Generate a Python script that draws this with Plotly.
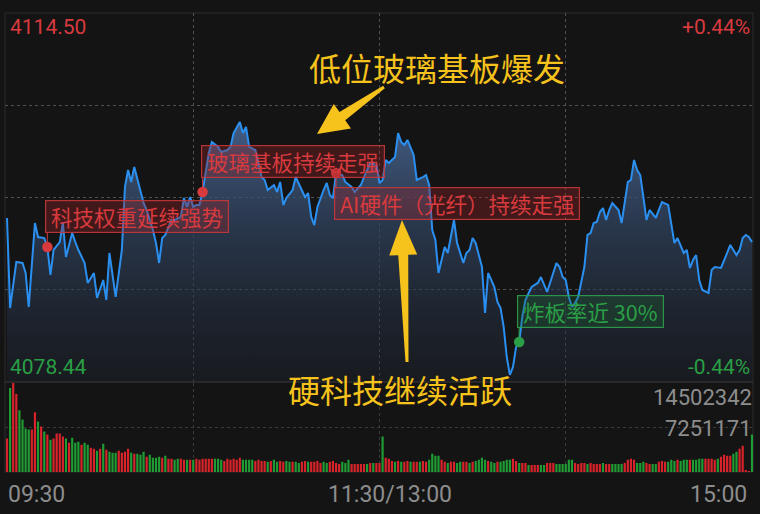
import math
import plotly.graph_objects as go

W, H = 760, 514

# ---------------- data ----------------
price_minutes = [0, 1, 3, 5, 6, 7, 9, 10, 12, 13, 14, 15, 17, 18, 19, 21, 22, 23, 25, 26,
                 28, 29, 31, 32, 33, 34, 35, 37, 38, 39, 40, 41, 43, 44, 45, 47, 48, 49, 50, 51,
                 53, 54, 56, 57, 58, 59, 60, 61, 62, 63, 65, 66, 68, 69, 71, 72, 73, 74, 75, 76,
                 77, 78, 80, 81, 82, 83, 84, 86, 87, 88, 89, 90, 92, 93, 95, 96, 97, 98, 99, 100,
                 102, 103, 104, 105, 106, 108, 109, 111, 112, 114, 115, 117, 119, 120, 121, 122, 123, 125, 126, 127,
                 128, 129, 131, 132, 134, 135, 136, 137, 138, 139, 141, 142, 144, 145, 147, 148, 149, 150, 151, 153,
                 154, 155, 157, 158, 159, 160, 161, 162, 163, 164, 165, 166, 167, 169, 171, 172, 174, 175, 177, 178,
                 179, 180, 181, 182, 183, 184, 186, 187, 188, 189, 190, 191, 192, 193, 194, 195, 197, 198, 199, 200,
                 201, 202, 203, 204, 205, 206, 207, 209, 210, 211, 213, 214, 215, 216, 218, 219, 220, 221, 222, 223,
                 224, 226, 227, 228, 230, 232, 233, 235, 236, 237, 238, 239, 240]
price_values = [4094.47, 4085.67, 4090.17, 4090.07, 4089.09, 4085.77, 4093.98, 4092.61, 4092.51, 4091.63,
                4088.90, 4091.34, 4092.12, 4093.98, 4090.66, 4093.00, 4092.12, 4091.34, 4090.07, 4088.12,
                4089.09, 4086.65, 4088.41, 4086.45, 4091.05, 4088.70, 4086.75, 4091.34, 4097.50, 4099.16,
                4097.99, 4099.45, 4097.20, 4095.93, 4095.25, 4093.29, 4092.02, 4090.07, 4092.51, 4092.81,
                4094.27, 4094.27, 4094.57, 4096.42, 4095.54, 4096.52, 4095.54, 4095.74, 4095.74, 4097.01,
                4100.82, 4101.89, 4101.41, 4100.92, 4101.11, 4101.41, 4102.77, 4103.26, 4103.85, 4102.77,
                4103.36, 4101.41, 4101.11, 4099.84, 4098.47, 4098.18, 4097.20, 4097.69, 4097.01, 4097.99,
                4095.74, 4096.42, 4097.20, 4098.47, 4097.20, 4096.52, 4096.91, 4094.57, 4093.78, 4095.54,
                4097.20, 4097.89, 4096.71, 4096.42, 4098.86, 4098.67, 4097.99, 4097.50, 4097.01, 4097.69,
                4098.47, 4099.84, 4099.65, 4097.89, 4098.18, 4100.14, 4099.84, 4100.43, 4102.77, 4101.89,
                4101.60, 4102.09, 4100.62, 4098.18, 4098.47, 4098.67, 4097.69, 4093.29, 4092.32, 4089.09,
                4091.63, 4091.05, 4094.27, 4092.02, 4090.07, 4091.05, 4091.34, 4092.51, 4092.02, 4089.68,
                4085.18, 4089.09, 4087.72, 4086.26, 4085.67, 4083.82, 4080.88, 4079.13, 4079.91, 4081.86,
                4082.35, 4084.79, 4086.45, 4087.72, 4088.12, 4088.70, 4087.24, 4088.12, 4090.07, 4089.68,
                4088.70, 4088.41, 4086.75, 4085.77, 4086.16, 4086.75, 4089.68, 4092.81, 4093.00, 4093.98,
                4094.08, 4095.05, 4095.44, 4094.27, 4095.25, 4095.93, 4095.25, 4093.98, 4095.93, 4097.99,
                4098.18, 4100.14, 4099.16, 4098.67, 4096.52, 4094.27, 4095.25, 4094.47, 4095.25, 4096.03,
                4095.74, 4093.98, 4092.02, 4092.51, 4091.05, 4091.34, 4089.58, 4090.36, 4090.85, 4088.41,
                4087.43, 4087.14, 4089.39, 4089.68, 4089.58, 4091.05, 4091.83, 4090.85, 4091.34, 4092.51,
                4092.81, 4092.61, 4092.12]

price_top = 4114.50
price_bottom = 4078.44
pct_top_label = "+0.44%"
pct_bottom_label = "-0.44%"

# volume per minute, millions (index = minute 0..240)
volume_m = [
    5.44, 13.68, 14.50, 12.69, 10.05, 8.57, 7.09, 6.92, 6.92, 9.72,
    8.24, 7.42, 6.59, 6.10, 5.27, 5.44, 6.26, 6.26, 5.77, 5.44,
    4.78, 5.60, 4.78, 4.94, 4.45, 4.78, 4.45, 3.96, 3.79, 3.46,
    3.79, 4.61, 3.63, 3.30, 3.13, 3.13, 3.46, 3.13, 3.30, 3.79,
    3.13, 2.97, 2.97, 2.80, 3.30, 2.47, 2.80, 2.31, 2.31, 2.47,
    2.31, 2.64, 2.14, 2.14, 1.98, 2.14, 2.14, 1.98, 1.98, 1.98,
    1.98, 2.14, 1.98, 2.14, 2.14, 2.14, 2.14, 2.14, 2.14, 1.98,
    1.81, 2.14, 1.98, 2.14, 1.98, 2.31, 1.98, 1.98, 1.98,
    1.98, 1.81, 1.98, 1.81, 1.81, 1.65, 1.81, 1.98, 1.65, 1.81,
    1.65, 1.81, 1.65, 1.65, 1.65, 1.48, 1.65, 1.81, 1.65, 1.65,
    1.65, 1.81, 1.48, 1.65, 1.48, 1.65, 1.81, 1.48, 1.32, 1.65,
    1.48, 1.98, 1.32, 1.32, 1.32, 1.32, 1.32, 1.32, 1.48, 1.48,
    1.48, 1.48,
    5.77,
    2.31, 2.14, 1.81, 1.65, 1.81, 1.65, 1.65, 1.81, 1.65, 1.65,
    1.65, 1.65, 1.81, 1.65, 1.98, 2.97, 2.64, 2.64, 1.98, 1.65,
    1.48, 1.65, 1.65, 1.48, 1.65, 1.65, 1.65, 1.48, 1.65, 1.81,
    1.98, 2.31, 1.98, 1.81, 1.65, 1.48, 1.65, 1.65,
    1.81, 1.98, 1.98, 2.14, 1.81, 1.48, 1.48, 1.48, 1.15, 1.15,
    1.15, 1.15, 1.15, 1.15, 1.48, 1.48, 1.48, 1.32, 1.32, 1.32,
    1.32, 1.98, 1.98, 1.48, 1.32, 1.48, 1.48, 1.32, 1.48, 1.32,
    1.32, 1.32, 1.48, 1.32, 1.32, 1.32, 1.32, 1.32, 1.32, 1.48,
    1.98, 2.14, 1.98, 1.48, 1.48, 1.65, 1.48, 1.32, 1.32, 1.32,
    1.65, 1.81, 1.65, 1.65, 1.98, 1.81, 1.98, 1.81, 1.98, 1.98,
    1.98, 1.98, 1.98, 2.14, 2.14, 2.14, 2.14, 2.14, 1.98, 2.14,
    2.47, 2.80, 2.64, 2.64, 2.97, 3.30, 3.79, 4.28, 0.33, 0.08,
    6.10,
]
volume_dir = list(
    "rgrrggggrr" "grgrgrrrrg" "rgggrggrrg" "rgrgggrrrr" "grgggrgggg" "rgrrggrrgr" "grrrrrrggg" "rrrrrrggg"
    "grrrrgrggr" "rggrggrrgr" "rrrggrrrrg" "ggrrrrrgrg" "rr"
    "g"
    "rrrgrgrrgr" "rgrrggggrr" "grrggrrgrg" "gggrggrg"
    "gggrrgrrgr" "rrggrrrggg" "gggrrrrgrr" "rrgrrggggr" "rrrgggrrgg" "rrrgggrggg" "rggggrrrrg" "rrrrggrrrr" "g"
)
volume_top = 14502342
volume_half = 7251171

time_tick_labels = ["09:30", "11:30/13:00", "15:00"]

event_texts = ["科技权重延续强势", "玻璃基板持续走强", "AI硬件（光纤）持续走强", "炸板率近 30%"]
event_minutes = [13, 63, 106, 165]
event_kinds = ["up", "up", "up", "down"]
event_sides = ["above", "above", "below", "above"]

callout_texts = ["低位玻璃基板爆发", "硬科技继续活跃"]

# ---------------- styling ----------------
BG = "#141414"
RED = "#d83a3e"
GREEN = "#2a9f45"
GREY = "#8d8d8d"
YELLOW = "#f6c21c"
LINE_BLUE = "#2b8ff0"
NUM_FONT = "Roboto, 'Noto Sans', sans-serif"
CJK_FONT = "'Noto Sans CJK SC', 'Noto Sans', sans-serif"
NB = "\u00a0"

px_per_min = (752 - 7) / 240.0
x_lo, x_hi = -0.6, 240.4
x_dom = [(7 + x_lo * px_per_min) / W, (7 + x_hi * px_per_min) / W]


def py(ypx):
    return 1 - ypx / H


def px(xpx):
    return xpx / W


fig = go.Figure()

# baseline for the area fill
fig.add_trace(go.Scatter(x=[price_minutes[0], price_minutes[-1]], y=[price_bottom, price_bottom],
                         mode="lines", line=dict(width=0, color="rgba(0,0,0,0)"),
                         hoverinfo="skip", showlegend=False, xaxis="x", yaxis="y"))
fig.add_trace(go.Scatter(
    x=price_minutes, y=price_values, mode="lines",
    line=dict(color=LINE_BLUE, width=2),
    fill="tonexty",
    fillgradient=dict(type="vertical",
                      colorscale=[[0, "rgba(30,36,48,0.4)"], [0.6, "rgba(50,70,100,0.7)"],
                                  [1, "rgba(75,105,150,0.85)"]],
                      start=price_bottom, stop=max(price_values)),
    showlegend=False, xaxis="x", yaxis="y"))

# event dots
lookup = dict(zip(price_minutes, price_values))
dot_colors = [RED if k == "up" else GREEN for k in event_kinds]
fig.add_trace(go.Scatter(x=event_minutes, y=[lookup[m] for m in event_minutes], mode="markers",
                         marker=dict(size=10.5, color=dot_colors), showlegend=False,
                         xaxis="x", yaxis="y"))

# volume
bar_colors = ["#d8232a" if d == "r" else "#1f9c33" for d in volume_dir]
fig.add_trace(go.Bar(x=list(range(len(volume_m))), y=[v * 1e6 for v in volume_m],
                     marker=dict(color=bar_colors, line=dict(width=0)),
                     showlegend=False, xaxis="x2", yaxis="y2"))

shapes = []
annotations = []

# stems + event boxes
for txt, m, kind, side in zip(event_texts, event_minutes, event_kinds, event_sides):
    col = RED if kind == "up" else GREEN
    box_bg = "rgba(150,35,38,0.35)" if kind == "up" else "rgba(30,100,45,0.3)"
    border = "rgba(200,55,58,0.9)" if kind == "up" else "rgba(45,160,75,0.9)"
    p = lookup[m]
    gap = 14
    sgn = 1 if side == "above" else -1
    shapes.append(dict(type="line", xref="x", yref="y", ysizemode="pixel", yanchor=p,
                       x0=m, x1=m, y0=0, y1=sgn * gap, line=dict(color=border, width=1.2)))
    annotations.append(dict(x=m, y=p, xref="x", yref="y", text=NB + txt + NB, showarrow=False,
                            xanchor="left", yanchor="bottom" if sgn > 0 else "top",
                            xshift=-2, yshift=sgn * gap,
                            font=dict(family=CJK_FONT, size=21.5, color=col),
                            bgcolor=box_bg, bordercolor=border, borderwidth=1.2, borderpad=0))

# frame lines
shapes.append(dict(type="rect", xref="paper", yref="paper", x0=px(5), x1=px(753), y0=py(472), y1=py(13),
                   line=dict(color="#2c2c2c", width=1), layer="below"))
shapes.append(dict(type="line", xref="paper", yref="paper", x0=px(5), x1=px(753), y0=py(382), y1=py(382),
                   line=dict(color="#3a3a3a", width=1.2)))


# yellow tapered arrows (pixel geometry of the call-outs)
def arrow_path(tail, tip, head_len, head_half, shaft_half_base, shaft_half_tail):
    dx, dy = tip[0] - tail[0], tip[1] - tail[1]
    L = math.hypot(dx, dy)
    ux, uy = dx / L, dy / L
    nx, ny = -uy, ux
    bx, by = tip[0] - head_len * ux, tip[1] - head_len * uy
    pts = [
        (tail[0] + shaft_half_tail * nx, tail[1] + shaft_half_tail * ny),
        (bx + shaft_half_base * nx, by + shaft_half_base * ny),
        (bx + head_half * nx, by + head_half * ny),
        tip,
        (bx - head_half * nx, by - head_half * ny),
        (bx - shaft_half_base * nx, by - shaft_half_base * ny),
        (tail[0] - shaft_half_tail * nx, tail[1] - shaft_half_tail * ny),
    ]
    return "M " + " L ".join(f"{px(x):.5f},{py(y):.5f}" for x, y in pts) + " Z"


for tail, tip, hl, hh in [((384, 87), (317, 134), 31, 15), ((407, 362), (402, 220), 35, 14)]:
    shapes.append(dict(type="path", xref="paper", yref="paper", path=arrow_path(tail, tip, hl, hh, 5, 1.5),
                       fillcolor=YELLOW, line=dict(width=0)))

annotations.append(dict(x=px(437), y=py(67), xref="paper", yref="paper", text=callout_texts[0],
                        showarrow=False, xanchor="center", yanchor="middle",
                        font=dict(family=CJK_FONT, size=32, color=YELLOW)))
annotations.append(dict(x=px(400), y=py(389), xref="paper", yref="paper", text=callout_texts[1],
                        showarrow=False, xanchor="center", yanchor="middle",
                        font=dict(family=CJK_FONT, size=32, color=YELLOW)))


# axis value labels
def lab(text, x, y, xanchor, color, size):
    annotations.append(dict(x=px(x), y=py(y), xref="paper", yref="paper", text=text, showarrow=False,
                            xanchor=xanchor, yanchor="middle",
                            font=dict(family=NUM_FONT, size=size, color=color)))


lab(f"{price_top:.2f}", 8, 27, "left", RED, 21)
lab(pct_top_label, 752, 27, "right", RED, 21)
lab(f"{price_bottom:.2f}", 8, 367, "left", GREEN, 21)
lab(pct_bottom_label, 752, 367, "right", GREEN, 21)
lab(str(volume_top), 754, 397, "right", GREY, 22)
lab(str(volume_half), 754, 428, "right", GREY, 22)
lab(time_tick_labels[0], 6, 494, "left", GREY, 23)
lab(time_tick_labels[1], 390, 494, "center", GREY, 23)
lab(time_tick_labels[2], 749, 494, "right", GREY, 23)

mid = (price_top + price_bottom) / 2
q = (price_top - price_bottom) / 4

fig.update_layout(
    width=W, height=H, margin=dict(l=0, r=0, t=0, b=0, pad=0),
    paper_bgcolor=BG, plot_bgcolor=BG,
    showlegend=False, bargap=0.3,
    xaxis=dict(domain=x_dom, range=[x_lo, x_hi], tickvals=[60, 120, 180], showticklabels=False,
               showgrid=True, gridcolor="#505050", griddash="dot", gridwidth=1, zeroline=False,
               showline=False, ticks=""),
    yaxis=dict(domain=[py(382), py(13)], range=[price_bottom, price_top],
               tickvals=[mid - q, mid, mid + q], showticklabels=False,
               showgrid=True, gridcolor="#505050", griddash="dot", gridwidth=1, zeroline=False,
               showline=False, ticks=""),
    xaxis2=dict(domain=x_dom, range=[x_lo, x_hi], anchor="y2", tickvals=[60, 120, 180],
                showticklabels=False, showgrid=True, gridcolor="#3a3a3a", griddash="dot",
                zeroline=False, showline=False, ticks=""),
    yaxis2=dict(domain=[py(472), py(383)], range=[0, volume_top], anchor="x2",
                tickvals=[volume_half], showticklabels=False, showgrid=True, gridcolor="#3a3a3a",
                griddash="dot", zeroline=False, showline=False, ticks=""),
    shapes=shapes, annotations=annotations,
)

fig.write_html("out.html", config={"displayModeBar": False},
               post_script="document.body.style.margin='0';document.body.style.overflow='hidden';")
